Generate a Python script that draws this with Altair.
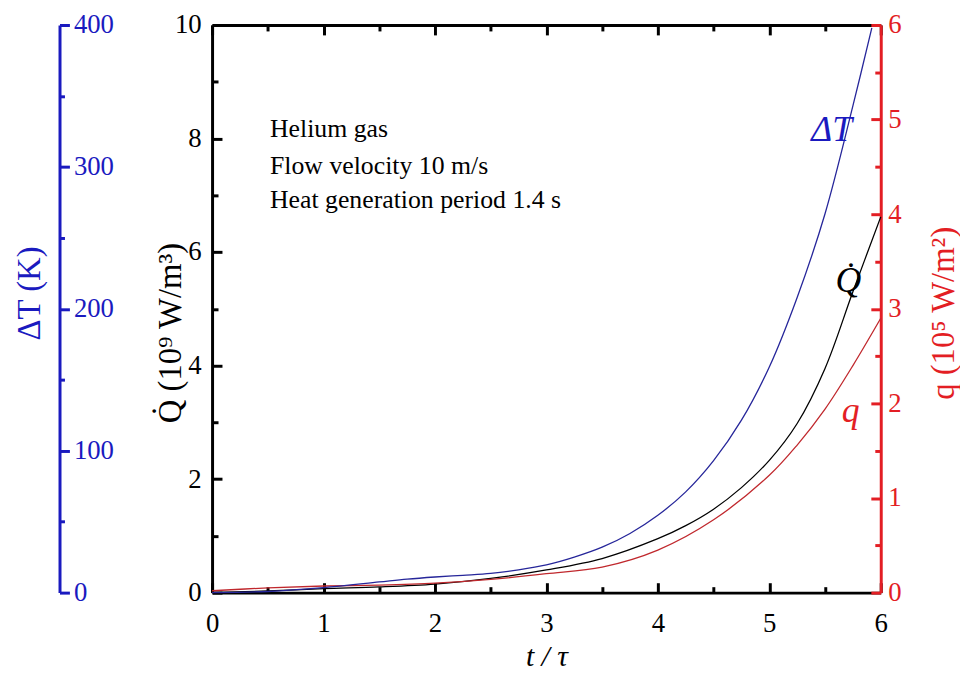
import altair as alt
import pandas as pd

# ---------------- data ----------------
t_dT = [0, 0.5, 1.0, 1.5, 1.75, 2.0, 2.25, 2.5, 2.75, 3.0, 3.25, 3.5, 3.75, 4.0, 4.25, 4.5, 4.75, 5.0, 5.25, 5.5, 5.75, 5.92]
dT_vals = [0, 0.8, 3.5, 7.5, 9.5, 11.0, 12.2, 13.5, 16.0, 19.5, 25.0, 32.0, 41.7, 54.5, 71.0, 93.0, 121.5, 159.0, 208.0, 267.0, 343.0, 398.0]

t_Q = [0, 0.5, 1.0, 1.5, 2.0, 2.5, 3.0, 3.5, 4.0, 4.25, 4.5, 4.75, 5.0, 5.25, 5.5, 5.75, 6.0]
Q_vals = [0, 0.03, 0.07, 0.10, 0.15, 0.25, 0.40, 0.60, 0.95, 1.18, 1.47, 1.85, 2.33, 2.98, 3.95, 5.3, 6.62]

t_q = [0, 0.5, 1.0, 1.5, 2.0, 2.5, 3.0, 3.5, 4.0, 4.5, 5.0, 5.25, 5.5, 5.75, 6.0]
q_vals = [0.02, 0.05, 0.07, 0.08, 0.10, 0.14, 0.20, 0.27, 0.45, 0.77, 1.24, 1.56, 1.94, 2.4, 2.9]

x_major = [0, 1, 2, 3, 4, 5, 6]
x_minor = [0.5, 1.5, 2.5, 3.5, 4.5, 5.5]
Q_major = [0, 2, 4, 6, 8, 10]
Q_minor = [1, 3, 5, 7, 9]
q_major = [0, 1, 2, 3, 4, 5, 6]
q_minor = [0.5, 1.5, 2.5, 3.5, 4.5, 5.5]
dT_major = [0, 100, 200, 300, 400]
dT_minor = [50, 150, 250, 350]

info_lines = ["Helium gas", "Flow velocity 10 m/s", "Heat generation period 1.4 s"]
info_t = [0.52, 0.52, 0.52]
info_Q = [8.03, 7.38, 6.77]

# curve labels: (text, t, value on own scale)
lab_dT = ("ΔT", 5.56, 318)
lab_Q = ("Q\u0307", 5.71, 5.29)
lab_q = ("q", 5.73, 1.80)

# ---------------- styling ----------------
W, H = 675, 573
FONT = "Liberation Serif"
BLUE_AX = "#1a1abf"
BLUE_LN = "#26269a"
RED_AX = "#e31e24"
RED_LN = "#c0282d"
BLACK = "#000000"
TICK_FS = 27
TITLE_FS = 33
INTERP = "catmull-rom"
IN_MAJOR = {"expr": "-10"}
IN_MINOR = {"expr": "-6"}

xs = alt.Scale(domain=[0, 6], nice=False)
sQ = alt.Scale(domain=[0, 10], nice=False)
sq = alt.Scale(domain=[0, 6], nice=False)
sT = alt.Scale(domain=[0, 400], nice=False)

df_dT = pd.DataFrame({"t": t_dT, "v": dT_vals})
df_Q = pd.DataFrame({"t": t_Q, "v": Q_vals})
df_q = pd.DataFrame({"t": t_q, "v": q_vals})

lab_common = dict(labelFont=FONT, labelFontSize=TICK_FS, labelOverlap=False, labelFlush=False, grid=False)
title_common = dict(titleFont=FONT, titleFontWeight="normal")

# --- main axes (inward ticks: label offset includes the negative tick size) ---
x_axis = alt.Axis(orient="bottom", values=x_major, title="t / τ",
                  ticks=True, tickSize=IN_MAJOR, tickWidth=3, tickColor=BLACK,
                  domainColor=BLACK, domainWidth=3, labelColor=BLACK, labelPadding=28,
                  titleFontSize=30, titleFontStyle="italic", titleColor=BLACK, titlePadding=6,
                  **lab_common, **title_common)

Q_axis = alt.Axis(orient="left", values=Q_major, ticks=True, tickSize=IN_MAJOR, tickWidth=3,
                  tickColor=BLACK, domainColor=BLACK, domainWidth=3, labelColor=BLACK,
                  labelPadding=21, title="Q\u0307 (10⁹ W/m³)", titleFontSize=TITLE_FS,
                  titleColor=BLACK, titleX=-42, titleY=H / 2 + 24, titleAngle=270,
                  titleAlign="center", titleBaseline="middle", **lab_common, **title_common)

q_axis = alt.Axis(orient="right", values=q_major, ticks=True, tickSize=IN_MAJOR, tickWidth=3,
                  tickColor=RED_AX, domainColor=RED_AX, domainWidth=3, labelColor=RED_AX,
                  labelPadding=17, title="q (10⁵ W/m²)", titleFontSize=TITLE_FS, titleColor=RED_AX,
                  titleX=63, titleY=H / 2 + 4, titleAngle=270, titleAlign="center",
                  titleBaseline="middle", **lab_common, **title_common)

dT_axis = alt.Axis(orient="right", offset=-(W + 154), values=dT_major, ticks=True,
                   tickSize=10, tickWidth=3, tickColor=BLUE_AX, domainColor=BLUE_AX,
                   domainWidth=3, labelColor=BLUE_AX, labelPadding=4, title="ΔT (K)",
                   titleFontSize=TITLE_FS, titleColor=BLUE_AX, titleX=-30, titleY=H / 2 - 16,
                   titleAngle=270, titleAlign="center", titleBaseline="middle",
                   **lab_common, **title_common)


# --- tick-only axes ---
def tick_axis(orient, vals, size, color, domain=False, offset=0):
    kw = dict(orient=orient, values=vals, ticks=True, tickSize=size, tickWidth=3,
              tickColor=color, labels=False, domain=domain, title=None, grid=False)
    if domain:
        kw.update(domainColor=color, domainWidth=3)
    if offset:
        kw.update(offset=offset)
    return alt.Axis(**kw)


ax_x_bot_minor = tick_axis("bottom", x_minor, IN_MINOR, BLACK)
ax_x_top_major = tick_axis("top", x_major, IN_MAJOR, BLACK, domain=True)
ax_x_top_minor = tick_axis("top", x_minor, IN_MINOR, BLACK)
ax_Q_minor = tick_axis("left", Q_minor, IN_MINOR, BLACK)
ax_q_minor = tick_axis("right", q_minor, IN_MINOR, RED_AX)
ax_T_minor = tick_axis("right", dT_minor, 5, BLUE_AX, offset=-(W + 154))

Xn = alt.X("t:Q", scale=xs, axis=None)

# ---------------- layers ----------------
line_Q = alt.Chart(df_Q).mark_line(color=BLACK, strokeWidth=1.3, interpolate=INTERP).encode(
    x=alt.X("t:Q", scale=xs, axis=x_axis), y=alt.Y("v:Q", scale=sQ, axis=Q_axis))
line_q = alt.Chart(df_q).mark_line(color=RED_LN, strokeWidth=1.3, interpolate=INTERP).encode(
    x=alt.X("t:Q", scale=xs, axis=ax_x_top_major), y=alt.Y("v:Q", scale=sq, axis=q_axis))
line_dT = alt.Chart(df_dT).mark_line(color=BLUE_LN, strokeWidth=1.3, interpolate=INTERP).encode(
    x=alt.X("t:Q", scale=xs, axis=ax_x_top_minor), y=alt.Y("v:Q", scale=sT, axis=dT_axis))

# invisible carriers for the extra (minor) tick axes
ghost_Q = alt.Chart(df_Q).mark_line(opacity=0).encode(
    x=alt.X("t:Q", scale=xs, axis=ax_x_bot_minor), y=alt.Y("v:Q", scale=sQ, axis=ax_Q_minor))
ghost_q = alt.Chart(df_q).mark_line(opacity=0).encode(
    x=Xn, y=alt.Y("v:Q", scale=sq, axis=ax_q_minor))
ghost_T = alt.Chart(df_dT).mark_line(opacity=0).encode(
    x=Xn, y=alt.Y("v:Q", scale=sT, axis=ax_T_minor))

info_df = pd.DataFrame({"t": info_t, "v": info_Q, "txt": info_lines})
info = alt.Chart(info_df).mark_text(font=FONT, fontSize=26, align="left", baseline="alphabetic",
                                    color=BLACK).encode(
    x=Xn, y=alt.Y("v:Q", scale=sQ, axis=None), text="txt:N")


def curve_label(lab, scale, color):
    d = pd.DataFrame({"t": [lab[1]], "v": [lab[2]], "txt": [lab[0]]})
    return alt.Chart(d).mark_text(font=FONT, fontSize=36, fontStyle="italic", align="center",
                                  baseline="alphabetic", color=color).encode(
        x=Xn, y=alt.Y("v:Q", scale=scale, axis=None), text="txt:N")


labels = [curve_label(lab_dT, sT, BLUE_AX), curve_label(lab_Q, sQ, BLACK), curve_label(lab_q, sq, RED_AX)]

chart = alt.layer(line_Q, line_q, line_dT, ghost_Q, ghost_q, ghost_T, info, *labels).resolve_scale(
    y="independent", x="shared"
).resolve_axis(x="independent", y="independent").properties(
    width=W, height=H,
    autosize=alt.AutoSizeParams(type="none"),
    padding={"left": 206, "top": 14, "right": 80, "bottom": 80},
).configure_view(stroke=None).configure_axis(grid=False)

chart.save("out.html", embed_options={"renderer": "svg", "actions": False})
